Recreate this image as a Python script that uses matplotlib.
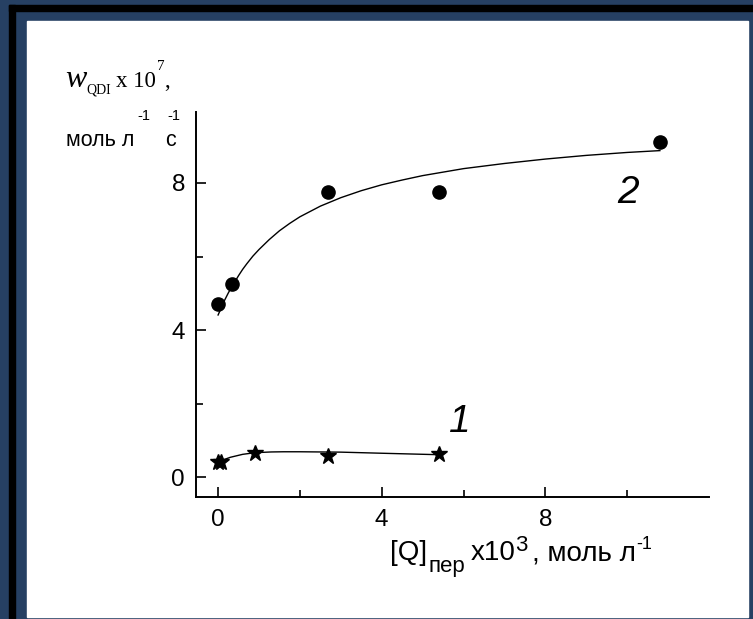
import numpy as np
import matplotlib.pyplot as plt
from matplotlib.patches import Rectangle

W, H = 753, 619

# measured points, series 1 (stars) and 2 (circles)
q1 = [0.0, 0.08, 0.89, 2.69, 5.4]
w1 = [0.40, 0.42, 0.67, 0.57, 0.62]
q2 = [0.0, 0.33, 2.68, 5.4, 10.8]
w2 = [4.71, 5.25, 7.75, 7.75, 9.12]

# fitted curves
fit1_x = [0.0, 0.1, 0.2, 0.3, 0.45, 0.6, 0.8, 1.0, 1.3, 1.6, 2.0, 2.5, 3.0, 4.0, 5.4]
fit1_y = [0.40, 0.45, 0.50, 0.54, 0.58, 0.62, 0.65, 0.67, 0.685, 0.69, 0.69, 0.685,
          0.68, 0.65, 0.61]
fit2_x = [0.0, 0.08, 0.15, 0.25, 0.33, 0.42, 0.5, 0.6, 0.7, 0.85, 1.0, 1.25, 1.5, 1.75,
          2.0, 2.5, 3.0, 3.5, 4.0, 4.5, 5.0, 6.0, 7.0, 8.0, 9.0, 10.0, 10.8]
fit2_y = [4.41, 4.61, 4.79, 5.01, 5.17, 5.33, 5.48, 5.65, 5.80, 6.01, 6.19, 6.46, 6.70,
          6.90, 7.08, 7.37, 7.60, 7.79, 7.95, 8.08, 8.20, 8.39, 8.53, 8.65, 8.75, 8.83,
          8.88]

x_major = [0, 4, 8]
x_minor = [2, 6, 10]
y_major = [0, 4, 8]
y_minor = [2, 6]

SANS = 'Liberation Sans'
SERIF = 'Liberation Serif'
NAVY = '#264063'

fig = plt.figure(figsize=(W / 100, H / 100), dpi=100)
fig.patch.set_facecolor(NAVY)

def px_rect(x0, y0, x1, y1, color):
    fig.patches.append(Rectangle((x0 / W, 1 - y1 / H), (x1 - x0) / W, (y1 - y0) / H,
                                 transform=fig.transFigure, color=color, zorder=-10))

# frame: black shadow lines and white panel
px_rect(9, 5, W, 11, 'black')
px_rect(9, 5, 15, H, 'black')
px_rect(27, 21, 748, 617, 'white')

ax = fig.add_axes([196 / W, 1 - 497 / H, (709 - 196) / W, (497 - 112) / H])
ax.set_zorder(5)
ax.set_facecolor('none')
for s in ['top', 'right']:
    ax.spines[s].set_visible(False)
for s in ['left', 'bottom']:
    ax.spines[s].set_linewidth(1.4)

ax.plot(fit2_x, fit2_y, color='black', lw=1.0)
ax.plot(fit1_x, fit1_y, color='black', lw=1.0)
ax.plot(q2, w2, 'o', color='black', ms=9.5)
ax.plot(q1, w1, '*', color='black', ms=12)

ax.set_xlim(-0.54, 12)
ax.set_ylim(-0.54, 9.93)
ax.set_xticks(x_major)
ax.set_xticks(x_minor, minor=True)
ax.set_yticks(y_major)
ax.set_yticks(y_minor, minor=True)
ax.tick_params(which='both', direction='in', width=1.2, labelsize=17.5)
ax.tick_params(which='major', length=7.5)
ax.tick_params(which='minor', length=5)
ax.tick_params(axis='x', pad=9)
ax.tick_params(axis='y', pad=8)
for lab in ax.get_xticklabels() + ax.get_yticklabels():
    lab.set_fontfamily(SANS)

# curve numbers
fig.text(628 / W, 1 - 203 / H, '2', fontsize=28, style='italic',
         family=SANS, ha='center', va='baseline')
fig.text(460 / W, 1 - 432 / H, '1', fontsize=28, style='italic',
         family=SANS, ha='center', va='baseline')

fig.canvas.draw()
renderer = fig.canvas.get_renderer()

def rich(x, y, pieces):
    # pieces: (text, size, dy, family, style, gap); x, y in pixels from top-left
    for s, size, dy, fam, sty, gap in pieces:
        x += gap
        t = fig.text(x / W, 1 - (y + dy) / H, s, fontsize=size, family=fam,
                     style=sty, ha='left', va='baseline')
        x = t.get_window_extent(renderer).x1

rich(65, 87, [('w', 23, 0, SERIF, 'italic', 0),
              ('QDI', 10, 6, SERIF, 'normal', 0),
              ('x 10', 16.5, 0, SERIF, 'normal', 5),
              ('7', 11, -17, SERIF, 'normal', 1),
              (',', 16.5, 0, SERIF, 'normal', 0)])
rich(66, 146, [('моль л', 15.5, 0, SANS, 'normal', 0),
               ('-1', 10.5, -26, SANS, 'normal', 3),
               ('с', 15.5, 0, SANS, 'normal', 15),
               ('-1', 10.5, -26, SANS, 'normal', -9)])
rich(390, 560, [('[Q]', 20, 0, SANS, 'normal', 0),
                ('пер', 16, 12, SANS, 'normal', 1),
                ('x10', 20, 0, SANS, 'normal', 6),
                ('3', 16, -9, SANS, 'normal', -1),
                (', моль л', 20, 0, SANS, 'normal', 5),
                ('-1', 13, -11, SANS, 'normal', 0)])

plt.savefig('out.png', dpi=100, facecolor=fig.get_facecolor())
